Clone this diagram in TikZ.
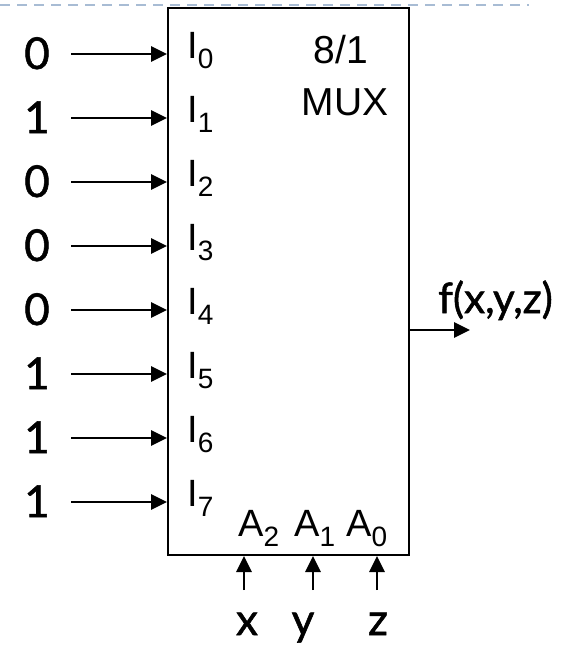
\documentclass[tikz,border=0pt]{standalone}
\usepackage{fontspec}
\usetikzlibrary{arrows.meta}
\newfontfamily\arialf{Liberation Sans}
\newfontfamily\gillf[FakeBold=1.2]{Lato}
\newcommand{\mysub}[1]{\raisebox{-10pt}{\fontsize{28}{28}\selectfont #1}}
\tikzset{
  sig/.style={line width=2.8pt, -{Triangle[length=16pt,width=15pt]}},
  pinlbl/.style={anchor=base west, inner sep=0pt, font=\arialf\fontsize{38}{38}\selectfont},
  vallbl/.style={anchor=base, inner sep=0pt, font=\gillf\fontsize{44}{44}\selectfont},
  boxtxt/.style={anchor=base, inner sep=0pt, font=\arialf\fontsize{39}{39}\selectfont},
}
\begin{document}
\begin{tikzpicture}[x=1pt,y=-1pt]
\useasboundingbox (0,0) rectangle (574,645);
\draw[line width=2pt, color={rgb,255:red,168;green,188;blue,212}, dash pattern=on 10pt off 7pt] (0,4.5) -- (529,4.5);
\node[draw, line width=2pt, minimum width=241pt, minimum height=547pt, inner sep=0pt, anchor=north west] (mux) at (167,7) {};
\node[boxtxt] (t81) at (341,63) {8/1};
\node[boxtxt] (tmux) at (345,115) {MUX};
% inputs
\foreach \k/\v in {0/0,1/1,2/0,3/0,4/0,5/1,6/1,7/1}{
  \pgfmathsetmacro{\yy}{54+64*\k}
  \node[vallbl] (v\k) at (37,\yy+15) {\v};
  \coordinate (s\k) at (71,\yy);
  \draw[sig] (s\k) -- (s\k -| mux.west);
  \node[pinlbl] (i\k) at (187,\yy+4) {I\mysub{\k}};
}
% select lines
\node[pinlbl] (a2) at (238,536) {A\mysub{2}};
\node[pinlbl] (a1) at (294,536) {A\mysub{1}};
\node[pinlbl] (a0) at (346,536) {A\mysub{0}};
\node[vallbl] (x) at (247,635) {x};
\node[vallbl] (y) at (303,635) {y};
\node[vallbl] (z) at (378,635) {z};
\coordinate (bx) at (244,590);
\coordinate (by) at (313,590);
\coordinate (bz) at (377,590);
\draw[sig] (bx) -- (bx |- mux.south);
\draw[sig] (by) -- (by |- mux.south);
\draw[sig] (bz) -- (bz |- mux.south);
% output
\coordinate (out) at (470,330);
\draw[sig] (out -| mux.east) -- (out);
\node[anchor=base west, inner sep=0pt, font=\gillf\fontsize{42}{42}\selectfont] (f) at (438,313) {f(x,y,z)};
\end{tikzpicture}
\end{document}
